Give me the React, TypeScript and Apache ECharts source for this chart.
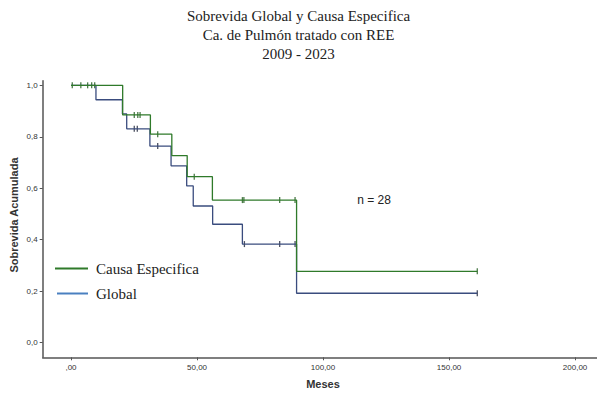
import React, { useEffect, useRef } from "react";
import * as echarts from "echarts";

// Kaplan-Meier step points [months, cumulative survival]
const causaEspecifica: [number, number][] = [
  [0, 1.0], [20.5, 0.885], [31.5, 0.81], [40.0, 0.727], [46.1, 0.645],
  [56.1, 0.554], [89.5, 0.277], [161.2, 0.277],
];
const global: [number, number][] = [
  [0, 1.0], [9.9, 0.944], [20.4, 0.889], [22.1, 0.831], [31.3, 0.764],
  [39.7, 0.687], [45.9, 0.609], [48.5, 0.531], [56.2, 0.46], [68.0, 0.383],
  [89.5, 0.192], [161.2, 0.192],
];
// censored observations
const censEspecifica: [number, number][] = [
  [0.5, 1.0], [3.9, 1.0], [6.6, 1.0], [8.2, 1.0], [9.4, 1.0],
  [25.1, 0.885], [26.5, 0.885], [27.4, 0.885], [34.4, 0.81], [48.9, 0.645],
  [68.0, 0.554], [68.6, 0.554], [82.8, 0.554], [88.9, 0.554], [161.2, 0.277],
];
const censGlobal: [number, number][] = [
  [25.1, 0.831], [26.3, 0.831], [34.4, 0.764], [68.8, 0.383], [82.8, 0.383],
  [88.9, 0.383], [161.2, 0.192],
];
const xTicks = [0, 50, 100, 150, 200];
const xTickLabels = [",00", "50,00", "100,00", "150,00", "200,00"];
const yTicks = [0, 0.2, 0.4, 0.6, 0.8, 1.0];
const yTickLabels = ["0,0", "0,2", "0,4", "0,6", "0,8", "1,0"];
const legendNames = ["Causa Especifica", "Global"];
const titleLines = ["Sobrevida Global y Causa Especifica", "Ca. de Pulmón tratado con REE", "2009 - 2023"];

const GREEN = "#2f7a2a";
const BLUE = "#3a4c7e";
const LEG_BLUE = "#4a80c0";

export default function App() {
  const ref = useRef<HTMLDivElement>(null);
  useEffect(() => {
    if (!ref.current) return;
    const chart = echarts.init(ref.current, null, { renderer: "svg" });
    const axisLine = { show: true, onZero: false, lineStyle: { color: "#555", width: 1.5 } };
    chart.setOption({
      animation: false,
      backgroundColor: "#fff",
      title: {
        text: titleLines.join("\n"),
        left: "center",
        top: 1,
        textStyle: {
          fontFamily: "Liberation Serif",
          fontSize: 15,
          fontWeight: "normal",
          color: "#222",
          lineHeight: 19,
        },
      },
      grid: { left: 42.7, right: 0, top: 80.7, bottom: 36.7 },
      xAxis: {
        type: "value",
        min: -11.23,
        max: 208.7,
        splitLine: { show: false },
        axisLine,
        axisTick: { show: true, length: 3, customValues: xTicks, lineStyle: { color: "#555" } },
        axisLabel: {
          customValues: xTicks,
          fontSize: 8,
          fontFamily: "Liberation Sans",
          color: "#333",
          margin: 6,
          formatter: (v: number) => xTickLabels[xTicks.indexOf(Math.round(v))] ?? "",
        },
      },
      yAxis: {
        type: "value",
        min: -0.057,
        max: 1.018,
        splitLine: { show: false },
        axisLine,
        axisTick: { show: true, length: 3, customValues: yTicks, lineStyle: { color: "#555" } },
        axisLabel: {
          customValues: yTicks,
          fontSize: 8,
          fontFamily: "Liberation Sans",
          color: "#333",
          margin: 5,
          formatter: (v: number) => {
            const i = yTicks.findIndex((t) => Math.abs(t - v) < 1e-6);
            return i >= 0 ? yTickLabels[i] : "";
          },
        },
      },
      series: [
        {
          type: "line",
          name: legendNames[1],
          step: "end",
          data: global,
          symbol: "none",
          lineStyle: { color: BLUE, width: 1.3 },
        },
        {
          type: "line",
          name: legendNames[0],
          step: "end",
          data: causaEspecifica,
          symbol: "none",
          lineStyle: { color: GREEN, width: 1.3 },
        },
        {
          type: "scatter",
          data: censGlobal,
          symbol: "rect",
          symbolSize: [1.3, 6],
          itemStyle: { color: "#1e2438" },
        },
        {
          type: "scatter",
          data: censEspecifica,
          symbol: "rect",
          symbolSize: [1.3, 6],
          itemStyle: { color: "#1f5a1c" },
        },
      ],
      graphic: [
        {
          type: "text",
          x: 14,
          y: 215,
          rotation: Math.PI / 2,
          style: {
            text: "Sobrevida Acumulada",
            fontFamily: "Liberation Sans",
            fontSize: 11,
            fontWeight: "bold",
            fill: "#333",
            textAlign: "center",
            textVerticalAlign: "middle",
          },
        },
        {
          type: "text",
          x: 323,
          y: 384,
          style: {
            text: "Meses",
            fontFamily: "Liberation Sans",
            fontSize: 11,
            fontWeight: "bold",
            fill: "#333",
            textAlign: "center",
            textVerticalAlign: "middle",
          },
        },
        {
          type: "text",
          x: 374,
          y: 200,
          style: {
            text: "n = 28",
            fontFamily: "Liberation Sans",
            fontSize: 12,
            fill: "#222",
            textAlign: "center",
            textVerticalAlign: "middle",
          },
        },
        {
          type: "line",
          shape: { x1: 55, y1: 268.5, x2: 88, y2: 268.5 },
          style: { stroke: GREEN, lineWidth: 2 },
        },
        {
          type: "line",
          shape: { x1: 57, y1: 293.5, x2: 88, y2: 293.5 },
          style: { stroke: LEG_BLUE, lineWidth: 2 },
        },
        {
          type: "text",
          x: 96,
          y: 268.5,
          style: {
            text: legendNames[0],
            fontFamily: "Liberation Serif",
            fontSize: 15,
            fill: "#222",
            textVerticalAlign: "middle",
          },
        },
        {
          type: "text",
          x: 96,
          y: 293.5,
          style: {
            text: legendNames[1],
            fontFamily: "Liberation Serif",
            fontSize: 15,
            fill: "#222",
            textVerticalAlign: "middle",
          },
        },
      ],
    });
    return () => chart.dispose();
  }, []);
  return (
    <div
      ref={ref}
      style={{ position: "fixed", left: 0, top: 0, width: 597, height: 394 }}
    />
  );
}
